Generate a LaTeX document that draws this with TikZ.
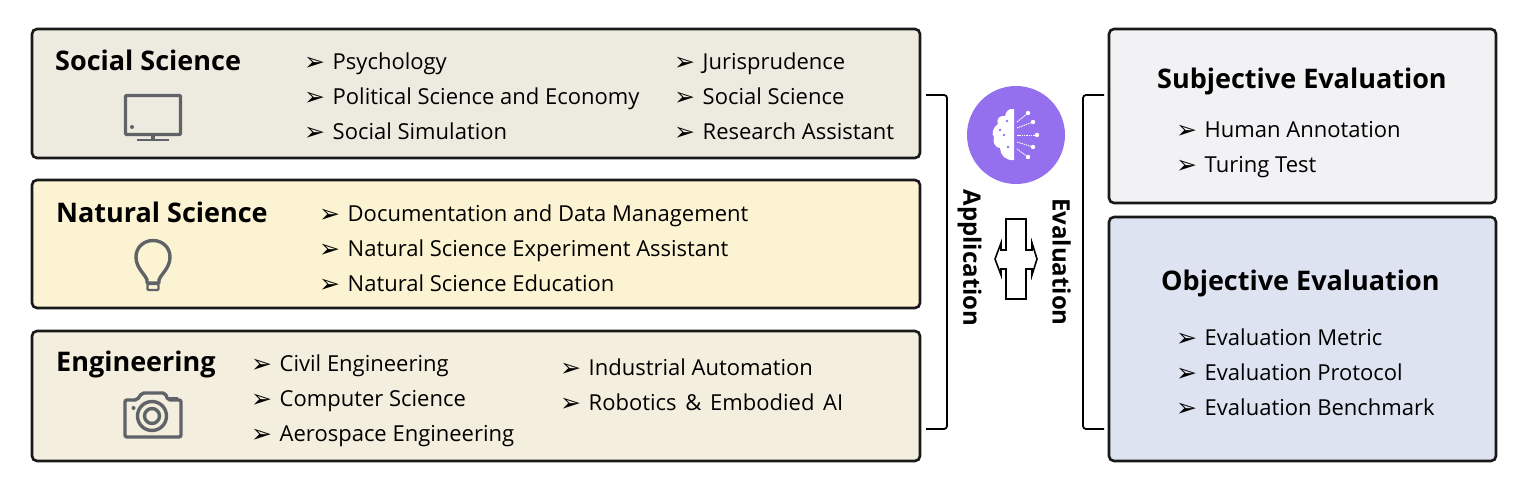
\documentclass[tikz,border=0pt]{standalone}
\usepackage{fontspec}
\setmainfont{Open Sans}
\newfontfamily\bulfont{DejaVu Sans}
\usetikzlibrary{calc}
\definecolor{socialfill}{HTML}{EDEBE0}
\definecolor{naturalfill}{HTML}{FCF3D3}
\definecolor{engfill}{HTML}{F3EEDD}
\definecolor{subjfill}{HTML}{F2F2F4}
\definecolor{objfill}{HTML}{DDE3F0}
\definecolor{iconcol}{HTML}{5F6368}
\definecolor{brainbg}{HTML}{9470EE}
\tikzset{
  panel/.style={draw=black!90,line width=2.6pt,rounded corners=5pt},
  title/.style={anchor=base west,inner sep=0pt,font=\fontsize{27}{30}\selectfont\bfseries},
  itemtxt/.style={anchor=base west,inner sep=0pt,font=\fontsize{22}{26}\selectfont},
  bul/.style={anchor=base west,inner sep=0pt,yshift=-1pt,xshift=-2pt,font=\fontsize{25}{28}\bulfont},
  ico/.style={draw=iconcol,line width=3.4pt,line join=round},
  brack/.style={draw=black,line width=1.8pt,rounded corners=3pt},
  vlabel/.style={inner sep=0pt,rotate=-90,font=\fontsize{24}{28}\selectfont\bfseries}
}
\newcommand{\itm}[4]{%
  \node[bul] (#1b) at (#2,#3) {➢};
  \node[itemtxt] (#1) at (#2+26.5,#3) {#4};
}
\begin{document}
\begin{tikzpicture}[x=1pt,y=-1pt]
\useasboundingbox (0,0) rectangle (1526,494);
% panels
\draw[panel,fill=socialfill] (32,29) rectangle (920,158);
\draw[panel,fill=naturalfill] (32,180) rectangle (920,308);
\draw[panel,fill=engfill] (32,331) rectangle (920,461);
\draw[panel,fill=subjfill] (1109,29) rectangle (1496,203);
\draw[panel,fill=objfill] (1109,217) rectangle (1496,461);
% titles
\node[title] (tsoc) at (55,71) {Social Science};
\node[title] (tnat) at (56,223) {Natural Science};
\node[title] (teng) at (56,371) {Engineering};
\node[title] (tsub) at (1157,89) {Subjective Evaluation};
\node[title] (tobj) at (1161,291) {Objective Evaluation};
% items
\itm{a1}{306}{70}{Psychology}
\itm{a2}{306}{105}{Political Science and Economy}
\itm{a3}{306}{140}{Social Simulation}
\itm{a4}{676}{70}{Jurisprudence}
\itm{a5}{676}{105}{Social Science}
\itm{a6}{676}{140}{Research Assistant}
\itm{b1}{321}{222}{Documentation and Data Management}
\itm{b2}{321}{257}{Natural Science Experiment Assistant}
\itm{b3}{321}{292}{Natural Science Education}
\itm{c1}{253}{371}{Civil Engineering}
\itm{c2}{253}{406}{Computer Science}
\itm{c3}{253}{441}{Aerospace Engineering}
\itm{c4}{562}{375}{Industrial Automation}
\itm{c5}{562}{410}{Robotics \hspace{3pt}\& \hspace{3pt}Embodied \hspace{3pt}AI}
\itm{d1}{1178}{138}{Human Annotation}
\itm{d2}{1178}{173}{Turing Test}
\itm{e1}{1178}{345}{Evaluation Metric}
\itm{e2}{1178}{380}{Evaluation Protocol}
\itm{e3}{1178}{415}{Evaluation Benchmark}
% monitor icon
\draw[ico,rounded corners=1pt] (125.5,95.5) rectangle (180.5,134.5);
\fill[iconcol] (132,127) circle (2);
\draw[ico,line width=4pt] (153,135) -- (153,140);
\draw[ico,line width=2.4pt] (137,140) -- (169,140);
% bulb icon
\draw[ico,line cap=round] (147,283) -- (147,280) .. controls (145,274) and (136,268) .. (136,257) .. controls (136,247) and (144,240.5) .. (153,240.5) .. controls (162,240.5) and (170,247) .. (170,257) .. controls (170,268) and (161,274) .. (159,280) -- (159,283) -- cycle;
\draw[ico,line width=2.4pt,rounded corners=1pt] (147.5,284) rectangle (158.5,290);
% camera icon
\draw[ico,rounded corners=2pt] (125,400) -- (137,400) -- (142,393) -- (165,393) -- (168,400) -- (181,400) -- (181,437) -- (125,437) -- cycle;
\draw[ico] (152,416) circle (14.5);
\draw[ico] (152,416) circle (7.5);
\draw[iconcol,line width=2.4pt] (168,398) -- (178,398);
\fill[iconcol] (133.5,408) circle (2);
% brackets
\draw[brack] (926,95) -- (947,95) -- (947,429) -- (926,429);
\draw[brack] (1104,95) -- (1083,95) -- (1083,429) -- (1104,429);
% double arrow
\draw[draw=black,fill=white,line width=1.6pt,line join=miter] (1006,219) -- (1026,219) -- (1026,250) -- (1032,250) -- (1032,243) -- (1037,259) -- (1032,275) -- (1032,269) -- (1026,269) -- (1026,299) -- (1006,299) -- (1006,269) -- (1001,269) -- (1001,275) -- (995,259) -- (1001,243) -- (1001,250) -- (1006,250) -- cycle;
% vertical labels
\node[vlabel] (lapp) at (969.5,258) {Application};
\node[vlabel] (leva) at (1061.5,262) {Evaluation};
% brain icon
\fill[brainbg] (1016,135) circle (49);
\fill[white] (1014,109) .. controls (1008,108) and (1006,112) .. (1005,116) .. controls (999,115) and (996,120) .. (998,124) .. controls (993,127) and (991,134) .. (994,137) .. controls (992,143) and (996,148) .. (1000,148) .. controls (1000,155) and (1006,161) .. (1014,160) -- cycle;
\foreach \px/\py in {1007/121,1004/135,1008/147,1000/130}
  \fill[brainbg] (\px,\py) circle (1.4);
\foreach \ax/\ay/\bx/\by in {1017/122/1028/113,1017/128/1033/122,1017/135/1037/135,1017/142/1033/147,1017/149/1028/157}{
  \draw[white,line width=0.9pt,dash pattern=on 1.5pt off 0.8pt] (\ax,\ay) -- (\bx,\by);
  \fill[white] (\bx,\by) circle (2.2);
}
\end{tikzpicture}
\end{document}
